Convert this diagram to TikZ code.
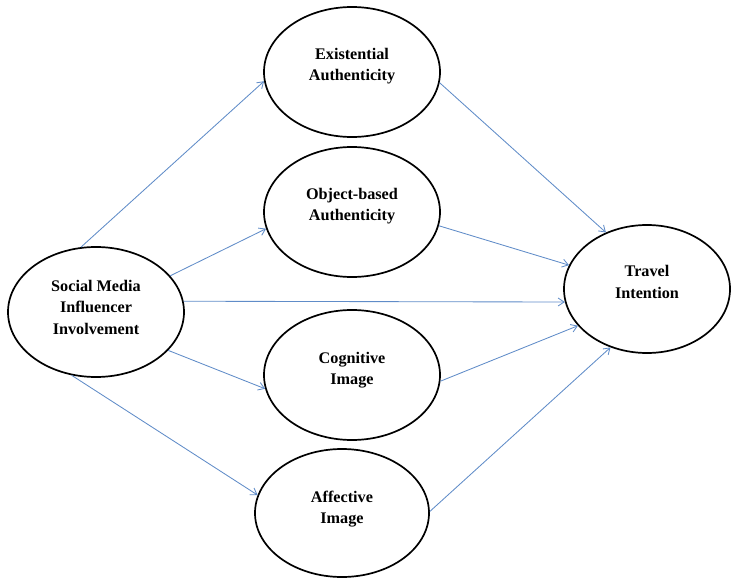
\documentclass[tikz,border=0pt]{standalone}
\usepackage{fontspec}
\setmainfont{Liberation Serif}
\usetikzlibrary{shapes.geometric,arrows.meta}
\definecolor{arrowblue}{RGB}{96,140,200}
\tikzset{
  oval/.style={draw=black, line width=1.7pt, ellipse, inner sep=0pt, minimum width=176pt, minimum height=130pt},
  txt/.style={align=center, font=\fontsize{16.2}{21.5}\selectfont\bfseries, inner sep=0pt},
  link/.style={draw=arrowblue, line width=0.85pt, -{Straight Barb[length=6pt,width=8pt]}}
}
\begin{document}
\begin{tikzpicture}[x=1pt,y=-1pt]
\useasboundingbox (0,0) rectangle (731,578);
\node[oval] (smi) at (96,312) {};
\node[oval] (exa) at (352,72) {};
\node[oval] (oba) at (352,212) {};
\node[oval] (cog) at (352,375) {};
\node[oval, minimum width=174pt, minimum height=128pt] (aff) at (342,513) {};
\node[oval, minimum width=166pt, minimum height=128pt] (ti) at (647,289) {};

\node[txt] (smit) at ([yshift=5pt]smi.center) {Social Media\\Influencer\\Involvement};
\node[txt] (exat) at ([yshift=6pt]exa.center) {Existential\\Authenticity};
\node[txt] (obat) at ([yshift=6pt]oba.center) {Object-based\\Authenticity};
\node[txt] (cogt) at ([yshift=5pt]cog.center) {Cognitive\\Image};
\node[txt] (afft) at ([yshift=4pt]aff.center) {Affective\\Image};
\node[txt] (tit) at ([yshift=7pt]ti.center) {Travel\\Intention};

\draw[link] (smi.103.6) -- (exa.186.6);
\draw[link] (smi.26.6) -- (oba.191);
\draw[link] (smi.7) -- (ti.189);
\draw[link] (smi.-28.4) -- (cog.189);
\draw[link] (smi.249.7) -- (aff.168.7);
\draw[link] (exa.-7.7) -- (ti.126);
\draw[link] (oba.-9) -- (ti.163);
\draw[link] (cog.-4.5) -- (ti.208.8);
\draw[link] (aff.1.3) -- (ti.238.7);
\end{tikzpicture}
\end{document}
